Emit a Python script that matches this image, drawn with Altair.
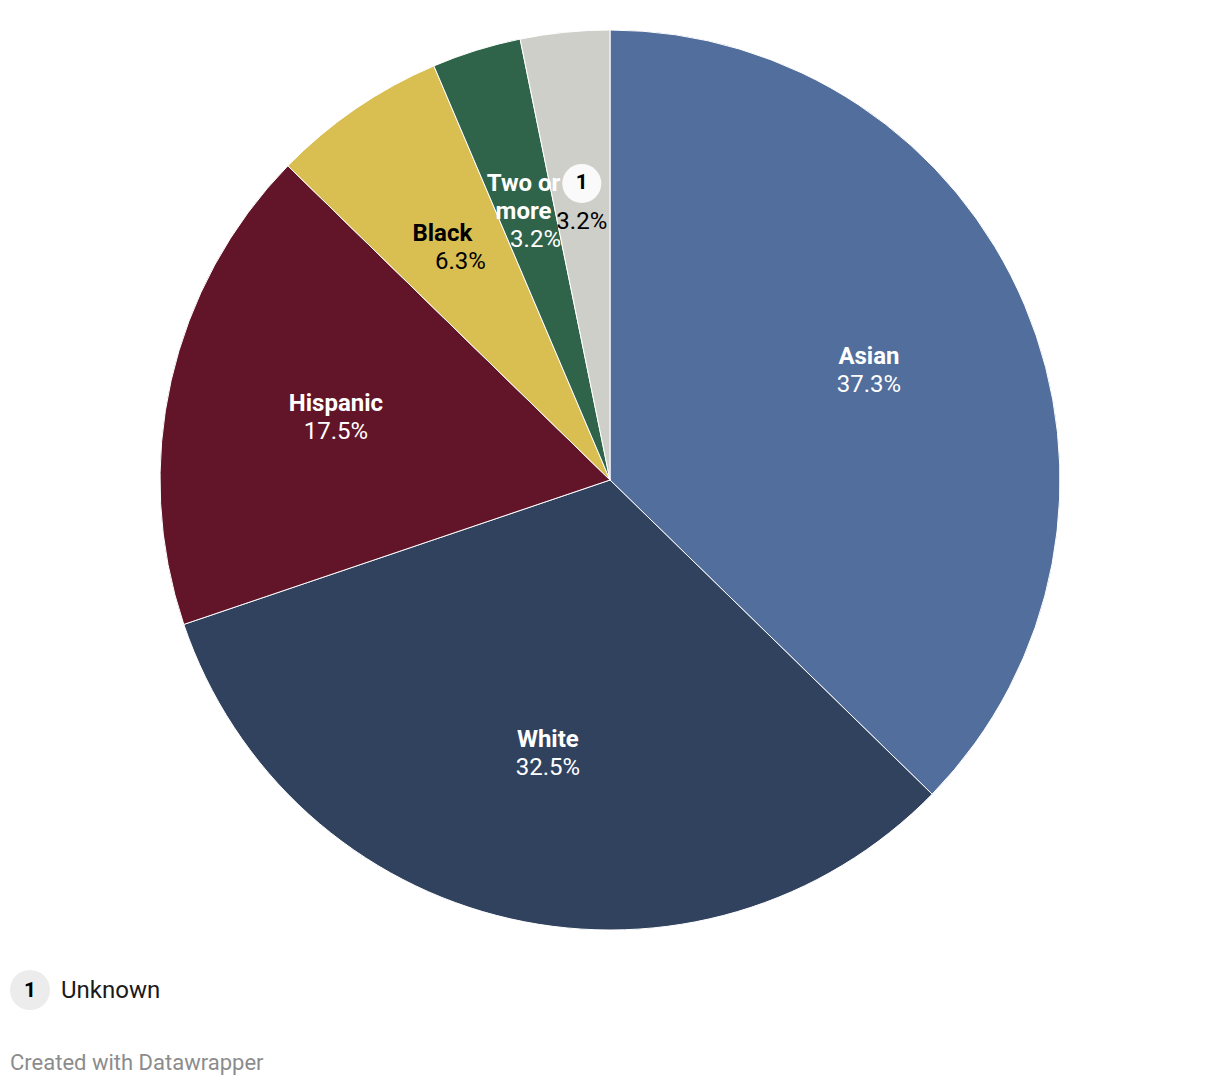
import altair as alt
import pandas as pd

groups = ["Asian", "White", "Hispanic", "Black", "Two or more", "Unknown"]
shares = [37.3, 32.5, 17.5, 6.3, 3.2, 3.2]
display_names = ["Asian", "White", "Hispanic", "Black", "Two or\nmore", ""]
colors = ["#516e9c", "#31425f", "#621529", "#d9bf51", "#2f634a", "#cfcfca"]
label_colors = ["#ffffff", "#ffffff", "#ffffff", "#000000", "#ffffff", "#000000"]
markers = ["", "", "", "", "", "1"]
legend_markers = ["1"]
legend_labels = ["Unknown"]
credit = ["Created with Datawrapper"]

df = pd.DataFrame({
    "group": groups,
    "value": shares,
    "order": list(range(len(groups))),
    "name": display_names,
    "pct": [f"{v:.1f}%" for v in shares],
    "marker": markers,
    "lc": label_colors,
})

CX, CY, R, LR = 602, 472, 450, 281
FONT = "Roboto"
FS = 24

arcs = alt.Chart(df).mark_arc(radius=R, stroke="#ffffff", strokeWidth=1).encode(
    theta=alt.Theta("value:Q", stack=True),
    order=alt.Order("order:Q"),
    x=alt.value(CX),
    y=alt.value(CY),
    color=alt.Color("group:N", scale=alt.Scale(domain=groups, range=colors), legend=None),
)

pos = alt.Chart(df).transform_joinaggregate(
    total="sum(value)"
).transform_window(
    cum="sum(value)", sort=[alt.SortField("order")], frame=[None, 0]
).transform_calculate(
    ang="2*PI*(datum.cum - datum.value/2)/datum.total"
).transform_calculate(
    px=f"{CX} + {LR}*sin(datum.ang)",
    py=f"{CY} - {LR}*cos(datum.ang)",
)

def lab(flt, field, dx=0, dy=0, bold=False, **kw):
    return pos.transform_filter(flt).mark_text(
        dx=dx, dy=dy, font=FONT, fontSize=FS,
        fontWeight="bold" if bold else "normal", **kw
    ).encode(
        x=alt.X("px:Q", scale=None), y=alt.Y("py:Q", scale=None),
        text=f"{field}:N", color=alt.Color("lc:N", scale=None),
    )

big = "indexof(['Asian','White','Hispanic'], datum.group) >= 0"
name_big = lab(big, "name", dy=-14, bold=True)
pct_big = lab(big, "pct", dy=14)
name_black = lab("datum.group == 'Black'", "name", dx=-9, dy=-14, bold=True)
pct_black = lab("datum.group == 'Black'", "pct", dx=9, dy=14)
name_two = lab("datum.group == 'Two or more'", "name", dx=-3, dy=-28, bold=True,
               lineBreak="\n", lineHeight=28)
pct_two = lab("datum.group == 'Two or more'", "pct", dx=9, dy=28)
pct_unk = lab("datum.marker != ''", "pct", dx=0, dy=22)

mk = pos.transform_filter("datum.marker != ''")
mk_dot = mk.mark_circle(size=1521, color="#fafafa", opacity=1, yOffset=-17).encode(
    x=alt.X("px:Q", scale=None), y=alt.Y("py:Q", scale=None)
)
mk_txt = mk.mark_text(font=FONT, fontSize=21, fontWeight="bold", color="#000000", dy=-17).encode(
    x=alt.X("px:Q", scale=None), y=alt.Y("py:Q", scale=None), text="marker:N"
)

leg = pd.DataFrame({"m": legend_markers, "t": legend_labels})
leg_dot = alt.Chart(leg).mark_circle(size=1600, color="#ececec", opacity=1).encode(
    x=alt.value(22), y=alt.value(982)
)
leg_num = alt.Chart(leg).mark_text(font=FONT, fontSize=21, fontWeight="bold", color="#000000").encode(
    x=alt.value(22), y=alt.value(983), text="m:N"
)
leg_txt = alt.Chart(leg).mark_text(font=FONT, fontSize=FS, align="left", color="#1a1a1a").encode(
    x=alt.value(53), y=alt.value(983), text="t:N"
)
cred = alt.Chart(pd.DataFrame({"c": credit})).mark_text(
    font=FONT, fontSize=22, align="left", color="#8c8c8c"
).encode(x=alt.value(2), y=alt.value(1055), text="c:N")

chart = alt.layer(
    arcs, name_big, pct_big, name_black, pct_black, name_two, pct_two, pct_unk,
    mk_dot, mk_txt, leg_dot, leg_num, leg_txt, cred
).properties(
    width=1204, height=1070, padding=0, autosize="none"
).configure(background="#ffffff", view=alt.ViewConfig(strokeWidth=0))

chart.save("out.html", embed_options={"renderer": "svg", "actions": False})
